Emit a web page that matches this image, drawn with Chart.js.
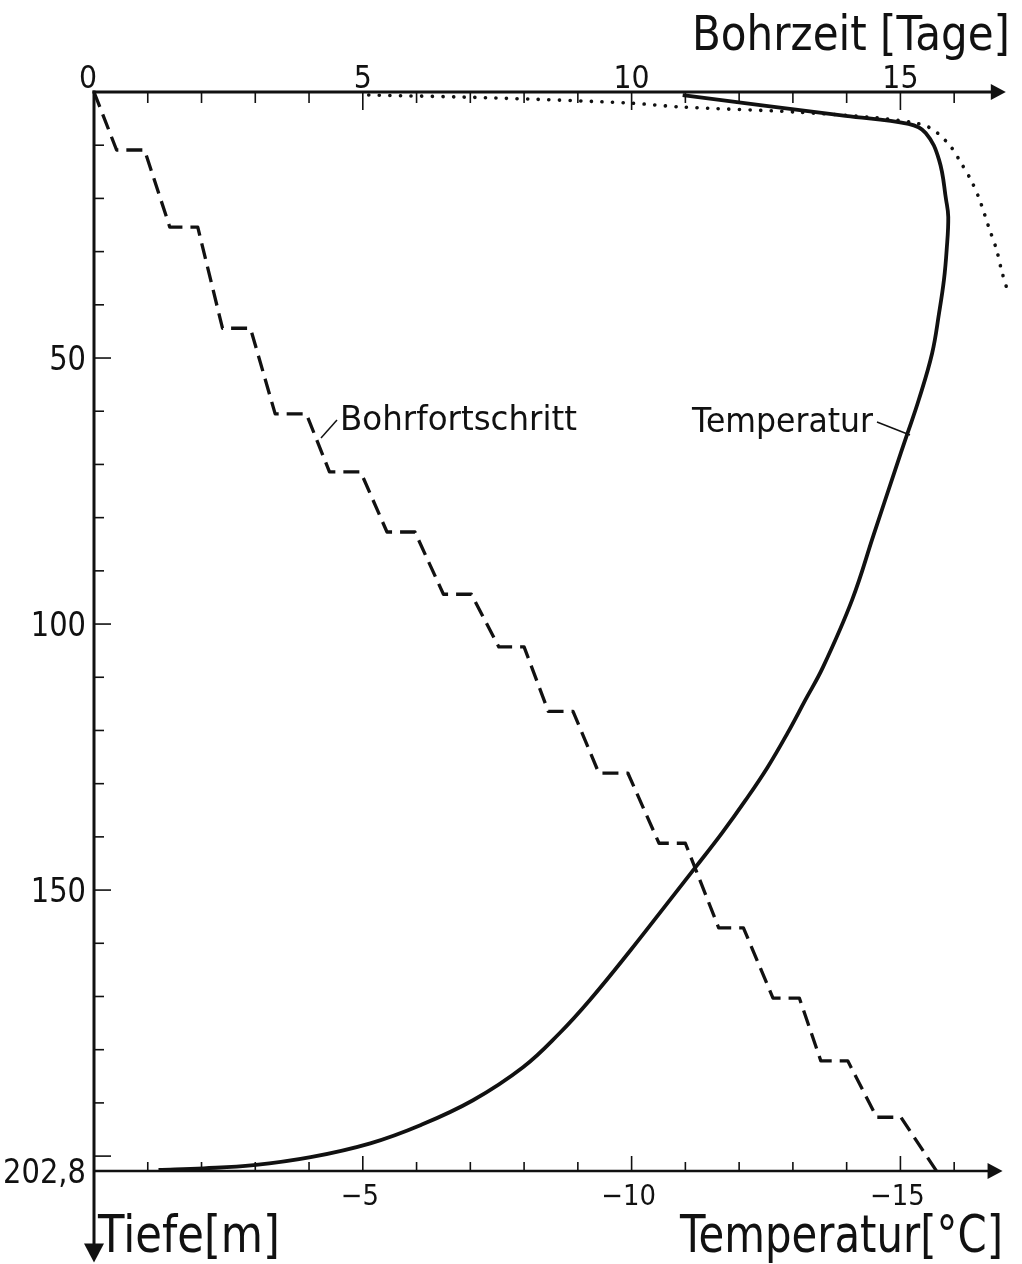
<!DOCTYPE html>
<html><head><meta charset="utf-8">
<script src="https://cdn.jsdelivr.net/npm/chart.js@4.4.0/dist/chart.umd.min.js"></script>
<style>html,body{margin:0;padding:0;background:#fff;}canvas{display:block;}</style>
</head><body>
<canvas id="c" width="1022" height="1264"></canvas>
<script>
// ---- Bohrfortschritt: Bohrzeit [Tage] vs. Tiefe [m]
const bohrTage  = [0, 0.42, 0.94, 1.41, 1.93, 2.39, 2.91, 3.37, 3.95, 4.38, 4.96, 5.45, 5.97, 6.50, 7.02, 7.53, 8.00, 8.45, 8.91, 9.39, 9.93, 10.51, 11.00, 11.62, 12.08, 12.63, 13.12, 13.52, 14.02, 14.56, 15.01, 15.67];
const bohrTiefe = [0, 10.9, 10.9, 25.4, 25.4, 44.4, 44.4, 60.5, 60.5, 71.4, 71.4, 82.7, 82.7, 94.4, 94.4, 104.3, 104.3, 116.4, 116.4, 128.0, 128.0, 141.2, 141.2, 157.1, 157.1, 170.3, 170.3, 182.1, 182.1, 192.7, 192.7, 202.8];

// ---- Temperatur [°C] vs. Tiefe [m] (solid)
const tempWerte = [-10.95, -13.98, -15.15, -15.47, -15.72, -15.85, -15.89, -15.86, -15.81, -15.72, -15.59, -15.34, -15.12, -14.90, -14.50, -14.10, -13.56, -13.23, -12.90, -12.53, -12.12, -11.68, -11.19, -10.74, -9.98, -9.22, -8.65, -7.98, -7.05, -6.07, -5.14, -4.03, -2.97, -2.04, -1.20];
const tempTiefe = [0.6, 4.5, 6.0, 7.7, 12.8, 20.3, 23.5, 29.7, 35.3, 41.5, 49.1, 57.9, 64.5, 71.1, 83.3, 95.5, 108.1, 114.3, 120.5, 126.9, 133.1, 139.3, 145.7, 151.5, 161.3, 170.7, 177.0, 183.3, 189.5, 194.2, 197.6, 200.2, 201.7, 202.3, 202.6];

// ---- dotted curve (temperature scale)
const punktTemp  = [-5.11, -7.47, -9.95, -10.92, -13.05, -14.59, -15.28, -15.52, -15.69, -15.94, -16.12, -16.31, -16.46, -16.65, -16.79, -16.88, -17.00];
const punktTiefe = [0.56, 1.13, 2.07, 2.82, 3.76, 4.89, 5.83, 6.58, 7.71, 10.3, 13.2, 16.5, 19.9, 25.6, 29.7, 33.5, 37.6];

// ---- ticks
const tageTicks   = [0, 5, 10, 15];
const tageLabels  = ['0', '5', '10', '15'];
const tempTicks   = [-5, -10, -15];
const tempLabels  = ['\u22125', '\u221210', '\u221215'];
const tiefeTicks  = [50, 100, 150, 202.8];
const tiefeLabels = ['50', '100', '150', '202,8'];

const INK = '#111';
const FONT = '"DejaVu Sans", "Liberation Sans", sans-serif';

function drawText(ctx, text, x, y, cap, align, opt) {
  const size = cap / 0.729;
  ctx.save();
  ctx.font = size + 'px ' + FONT;
  const w = ctx.measureText(text).width;
  let sx = 1;
  if (opt && opt.width) sx = opt.width / w;
  if (opt && opt.sx) sx = opt.sx;
  ctx.translate(x, y);
  ctx.scale(sx, 1);
  ctx.textAlign = 'left';
  ctx.textBaseline = 'alphabetic';
  let ox = align === 'left' ? 0 : (align === 'right' ? -w : -w / 2);
  ctx.fillStyle = INK;
  ctx.fillText(text, ox, 0);
  ctx.restore();
}
function seg(ctx, x1, y1, x2, y2) { ctx.beginPath(); ctx.moveTo(x1, y1); ctx.lineTo(x2, y2); ctx.stroke(); }

const axisPlugin = {
  id: 'axisPlugin',
  beforeDatasetsDraw(chart) {
    const ctx = chart.ctx;
    const xT = chart.scales.xTage, xC = chart.scales.xTemp, y = chart.scales.y;
    const ox = xT.getPixelForValue(0);
    const top = y.getPixelForValue(0);
    const bot = y.getPixelForValue(202.8);
    ctx.save();
    ctx.strokeStyle = INK; ctx.fillStyle = INK; ctx.lineCap = 'butt';

    // top axis (Bohrzeit)
    const topTip = xT.getPixelForValue(16.96);
    ctx.lineWidth = 3;
    seg(ctx, ox - 1.5, top, topTip - 10, top);
    ctx.beginPath(); ctx.moveTo(topTip, top); ctx.lineTo(topTip - 15, top - 8); ctx.lineTo(topTip - 15, top + 8); ctx.closePath(); ctx.fill();
    ctx.lineWidth = 1.6;
    for (let d = 1; d <= 16; d++) {
      const px = xT.getPixelForValue(d);
      seg(ctx, px, top, px, top + (d % 5 === 0 ? 18 : 11));
    }
    // bottom axis (Temperatur)
    const botTip = xC.getPixelForValue(-16.9);
    ctx.lineWidth = 2.6;
    seg(ctx, ox, bot, botTip - 10, bot);
    ctx.beginPath(); ctx.moveTo(botTip, bot); ctx.lineTo(botTip - 15, bot - 8); ctx.lineTo(botTip - 15, bot + 8); ctx.closePath(); ctx.fill();
    ctx.lineWidth = 1.6;
    for (let t = 1; t <= 16; t++) {
      const px = xC.getPixelForValue(-t);
      seg(ctx, px, bot, px, bot - (t % 5 === 0 ? 15 : 9));
    }
    // left axis (Tiefe)
    const yTip = y.getPixelForValue(220);
    ctx.lineWidth = 3;
    seg(ctx, ox, top - 1.5, ox, yTip - 12);
    ctx.beginPath(); ctx.moveTo(ox, yTip); ctx.lineTo(ox - 10, yTip - 19); ctx.lineTo(ox + 10, yTip - 19); ctx.closePath(); ctx.fill();
    ctx.lineWidth = 1.6;
    for (let m = 10; m <= 200; m += 10) {
      const py = y.getPixelForValue(m);
      seg(ctx, ox, py, ox + (m % 50 === 0 ? 17 : 10), py);
    }

    // tick labels
    tageTicks.forEach((v, i) => {
      const px = xT.getPixelForValue(v);
      if (v === 0) drawText(ctx, tageLabels[i], px + 3, top - 4, 23, 'right', {sx: 0.9});
      else drawText(ctx, tageLabels[i], px, top - 4, 23, 'center', {sx: 0.9});
    });
    tempTicks.forEach((v, i) => {
      const px = xC.getPixelForValue(v);
      drawText(ctx, tempLabels[i], px - 3, bot + 34, 21, 'center', {sx: 0.9});
    });
    tiefeTicks.forEach((v, i) => {
      const py = y.getPixelForValue(v);
      drawText(ctx, tiefeLabels[i], ox - 8, py + 12, 24, 'right', {sx: 0.88});
    });

    // axis titles
    drawText(ctx, 'Bohrzeit [Tage]', 692, 50, 35, 'left', {width: 318});
    drawText(ctx, 'Tiefe[m]', 98, 1252, 37, 'left', {width: 182});
    drawText(ctx, 'Temperatur[\u00B0C]', 680, 1252, 37, 'left', {width: 323});

    // curve labels with leader lines
    drawText(ctx, 'Bohrfortschritt', 340, 430, 25, 'left', {width: 237});
    drawText(ctx, 'Temperatur', 692, 432, 25, 'left', {width: 181});
    ctx.lineWidth = 1.5;
    seg(ctx, 337, 420, 321, 438);
    seg(ctx, 877, 422, 910, 435);
    ctx.restore();
  }
};

const chart = new Chart(document.getElementById('c').getContext('2d'), {
  type: 'line',
  data: {
    datasets: [
      {
        label: 'Bohrfortschritt',
        xAxisID: 'xTage', yAxisID: 'y',
        data: bohrTage.map((t, i) => ({x: t, y: bohrTiefe[i]})),
        borderColor: INK, borderWidth: 3.3, borderDash: [16, 8],
        pointRadius: 0, tension: 0, fill: false
      },
      {
        label: 'Temperatur',
        xAxisID: 'xTemp', yAxisID: 'y',
        data: tempWerte.map((t, i) => ({x: t, y: tempTiefe[i]})),
        borderColor: INK, borderWidth: 3.8,
        pointRadius: 0, tension: 0.4, fill: false
      },
      {
        label: 'punktiert',
        xAxisID: 'xTemp', yAxisID: 'y',
        data: punktTemp.map((t, i) => ({x: t, y: punktTiefe[i]})),
        borderColor: INK, borderWidth: 3.6, borderDash: [0.1, 10.5], borderCapStyle: 'round',
        pointRadius: 0, tension: 0.3, fill: false
      }
    ]
  },
  options: {
    responsive: false,
    animation: false,
    devicePixelRatio: 1,
    layout: {padding: {left: 94, top: 92, right: 6, bottom: 93}},
    plugins: {legend: {display: false}, tooltip: {enabled: false}},
    elements: {line: {borderJoinStyle: 'round'}},
    datasets: {line: {clip: false}},
    scales: {
      xTage: {type: 'linear', position: 'top', display: false, min: 0, max: 17.15},
      xTemp: {type: 'linear', position: 'bottom', display: false, min: -17.15, max: 0, reverse: true},
      y: {type: 'linear', position: 'left', display: false, min: 0, max: 202.8, reverse: true}
    }
  },
  plugins: [axisPlugin]
});
</script>
</body></html>
